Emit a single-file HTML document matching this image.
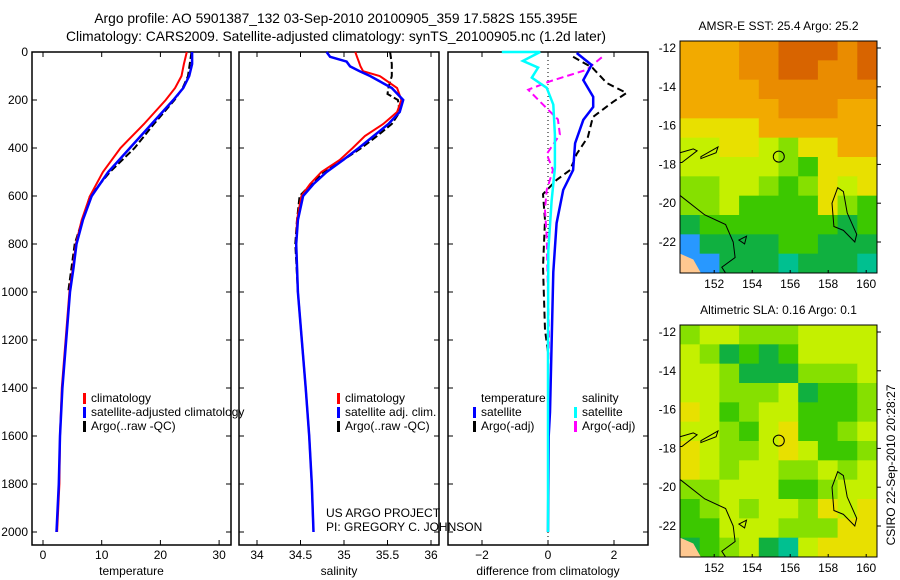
<!DOCTYPE html>
<html><head><meta charset="utf-8"><style>
body{margin:0;background:#fff;}
svg{display:block;font-family:"Liberation Sans",sans-serif;font-size:12px;}
</style></head><body>
<svg id="c" width="900" height="580" viewBox="0 0 900 580">
<text x="336" y="23" text-anchor="middle" font-size="13.8">Argo profile: AO 5901387_132 03-Sep-2010 20100905_359 17.582S 155.395E</text>
<text x="336" y="41" text-anchor="middle" font-size="13.8">Climatology: CARS2009. Satellite-adjusted climatology: synTS_20100905.nc (1.2d later)</text>
<g id="plots"></g>
<text transform="translate(895,465) rotate(-90)" text-anchor="middle" font-size="12">CSIRO 22-Sep-2010 20:28:27</text>
</svg>
<script>
// ---- data ----
const tDepth=[0,50,100,150,200,300,400,500,600,700,800,900,1000,1400,1600,1800,2000];
const tClim=[24.5,24.0,23.6,22.5,20.9,17.2,13.2,10.2,8.0,6.6,5.6,5.1,4.5,3.2,2.9,2.8,2.4];
const tSat=[25.4,25.4,24.9,23.9,22.2,18.5,14.8,11.1,8.3,6.8,5.7,5.2,4.6,3.3,2.9,2.7,2.3];
const tArgoDepth=[0,100,150,200,300,400,500,600,800,1000];
const tArgo=[25.3,24.7,23.8,22.4,18.9,15.6,11.4,8.0,5.4,4.3];
const sDepth=[0,20,40,60,80,100,150,200,250,300,350,400,450,500,550,600,700,800,1000,1400,1600,1800,2000];
const sClim=[35.13,35.15,35.17,35.19,35.22,35.41,35.61,35.66,35.61,35.45,35.24,35.10,34.95,34.74,34.61,34.51,34.46,34.45,34.47,34.56,34.60,34.63,34.65];
const sSat=[34.80,34.84,35.03,35.07,35.18,35.30,35.55,35.68,35.64,35.51,35.34,35.17,34.99,34.80,34.65,34.53,34.47,34.45,34.47,34.56,34.60,34.63,34.65];
const sArgoDepth=[0,50,100,150,175,200,250,300,350,400,450,500,600,700,800,1000];
const sArgo=[35.53,35.55,35.55,35.51,35.50,35.62,35.64,35.55,35.38,35.20,34.99,34.76,34.49,34.46,34.44,34.47];
const dTSatDepth=[4,54,117,187,229,283,380,492,575,713,917,1500,1600,2000];
const dTSat=[0.87,1.32,1.07,1.37,1.37,1.07,0.82,0.76,0.46,0.26,0.16,0.06,0.02,0.0];
const dTArgoDepth=[20,66,129,171,208,271,354,425,492,533,592,700,896,1158,1250];
const dTArgo=[0.76,1.35,1.78,2.38,1.97,1.36,1.21,0.87,0.67,0.26,-0.15,-0.09,-0.15,-0.09,0.0];
const dSSatDepth=[0,0,37,65,107,149,219,344,483,621,829,1200,2000];
const dSSat=[-1.40,-0.24,-0.76,-0.30,-0.49,-0.04,0.16,0.21,0.21,0.11,0.01,0.0,0.0];
const dSArgoDepth=[22,74,122,157,219,281,344,425,492,575,658,769,1187,1350];
const dSArgo=[1.63,1.17,0.06,-0.60,-0.15,0.30,0.36,-0.04,0.15,-0.04,-0.09,-0.04,0.03,0.0];
const depthTicks=[0,200,400,600,800,1000,1200,1400,1600,1800,2000];
const tTicks=[0,10,20,30];
const sTicks=[34,34.5,35,35.5,36];
const dTicks=[-2,0,2];
const latTicks=[12,14,16,18,20,22];
const lonTicks=[152,154,156,158,160];
const sstGrid=["aaaOOoooOo","aaaOOooOOo","aaaaOOOOOO","aaaaaOOOaa","yyyyaaaaaa","llyylgyyaa","lllllgGyyy","ggllgGgyly","gglGGGGygG","dGGGGGGGdG","bddddGGddd","bbdddtdddt"];
const slaGrid=["gllgggllll","lgdGdGllll","llgdddgggl","llgggldGGg","ylGgllGGGg","llgGlyGGgl","ylgglylGGg","ylgllgglgl","gglllGGgll","Gglgllgyly","GGlllgggyy","dGgldtlyyy"];
const pal={o:"#d86400",O:"#ea8c00",a:"#f2aa00",y:"#e8e000",l:"#c4f000",g:"#86e000",G:"#3cc800",d:"#10b040",t:"#00c090",b:"#2898ff"};
// ---- scales ----
const NS="http://www.w3.org/2000/svg";
const root=document.getElementById('plots');
function el(tag,attrs,parent){const e=document.createElementNS(NS,tag);for(const k in attrs)e.setAttribute(k,attrs[k]);(parent||root).appendChild(e);return e;}
const top0=52, bot=545, yD=d=>top0+d*0.24;
const panels=[
 {x0:32,x1:231,sx:v=>43+v*5.87,ticks:tTicks,label:"temperature",name:"temperature-panel"},
 {x0:239,x1:439,sx:v=>257+(v-34)*87,ticks:sTicks,label:"salinity",name:"salinity-panel"},
 {x0:448,x1:648,sx:v=>548+v*33,ticks:dTicks,label:"difference from climatology",name:"difference-panel"}];
panels.forEach((p,i)=>{
 const g=el('g',{});
 
 
 const r=el('rect',{x:p.x0,y:top0,width:p.x1-p.x0,height:bot-top0,fill:'none',stroke:'#000','stroke-width':1.5},g);
 
 
 depthTicks.forEach(d=>{
  el('line',{x1:p.x0,x2:p.x0+5,y1:yD(d),y2:yD(d),stroke:'#000'},g);
  el('line',{x1:p.x1-5,x2:p.x1,y1:yD(d),y2:yD(d),stroke:'#000'},g);
  if(i==0){const t=el('text',{x:28,y:yD(d)+4,'text-anchor':'end'},g);t.textContent=d;
   
   }
 });
 p.ticks.forEach(v=>{
  el('line',{x1:p.sx(v),x2:p.sx(v),y1:bot,y2:bot-5,stroke:'#000'},g);
  el('line',{x1:p.sx(v),x2:p.sx(v),y1:top0,y2:top0+5,stroke:'#000'},g);
  const t=el('text',{x:p.sx(v),y:559,'text-anchor':'middle'},g);t.textContent=(i==2&&v<0)?"\u2212"+(-v):v;
  
  
 });
 const xl=el('text',{x:(p.x0+p.x1)/2,y:575,'text-anchor':'middle'},g);xl.textContent=p.label;
 
 
});
function line(xs,ds,sx,color,dash,name,w){
 const pts=xs.map((v,k)=>sx(v).toFixed(1)+","+yD(ds[k]).toFixed(1)).join(" ");
 const l=el('polyline',{points:pts,fill:'none',stroke:color,'stroke-width':w||2,'stroke-dasharray':dash||'none'});
 
 
}
const P=panels;
line(tArgo,tArgoDepth,P[0].sx,'#000','7,3','temp-argo-line',2);
line(tClim,tDepth,P[0].sx,'#f00',null,'temp-climatology-line',2);
line(tSat,tDepth,P[0].sx,'#00f',null,'temp-satellite-line',2.5);
line(sArgo,sArgoDepth,P[1].sx,'#000','7,3','sal-argo-line',2);
line(sClim,sDepth,P[1].sx,'#f00',null,'sal-climatology-line',2);
line(sSat,sDepth,P[1].sx,'#00f',null,'sal-satellite-line',2.5);
el('line',{x1:548,x2:548,y1:top0,y2:bot,stroke:'#000','stroke-dasharray':'1,3'});
line(dTArgo,dTArgoDepth,P[2].sx,'#000','7,4','dtemp-argo-line',2);
line(dSArgo,dSArgoDepth,P[2].sx,'#f0f','7,4','dsal-argo-line',2);
line(dTSat,dTSatDepth,P[2].sx,'#00f',null,'dtemp-satellite-line',2.5);
line(dSSat,dSSatDepth,P[2].sx,'#0ff',null,'dsal-satellite-line',2.5);
// legends
function leg(x,y,color,txt){
 if(color){const m=el('rect',{x:x,y:y-9,width:3,height:11,fill:color});
  
  }
 const t=el('text',{x:x+8,y:y});t.textContent=txt;
 
 
}
leg(83,402,'#f00','climatology');leg(83,416,'#00f','satellite-adjusted climatology');leg(83,430,'#000','Argo(..raw -QC)');
leg(337,402,'#f00','climatology');leg(337,416,'#00f','satellite adj. clim.');leg(337,430,'#000','Argo(..raw -QC)');
leg(473,402,null,'temperature');leg(473,416,'#00f','satellite');leg(473,430,'#000','Argo(-adj)');
leg(574,402,null,'salinity');leg(574,416,'#0ff','satellite');leg(574,430,'#f0f','Argo(-adj)');
const pt1=el('text',{x:326,y:517});pt1.textContent='US ARGO PROJECT';


const pt2=el('text',{x:326,y:531});pt2.textContent='PI: GREGORY C. JOHNSON';


// maps
function map(y0,grid,title,name){
 const x0=680,w=197,h=232;
 const g=el('g',{});
 
 
 const rows=grid.length,cols=grid[0].length;
 grid.forEach((row,r)=>{[...row].forEach((c,k)=>{
  el('rect',{x:x0+k*w/cols,y:y0+r*h/rows,width:w/cols+0.5,height:h/rows+0.5,fill:pal[c]},g);
 });});
 const lx=lon=>x0+(lon-150.2)*19, ly=lat=>y0+7+(lat-12)*19.4;
 el('path',{d:`M${x0} ${ly(22.6)} L${lx(150.9)} ${ly(22.9)} L${lx(151.3)} ${ly(23.6)} L${x0} ${y0+h} Z`,fill:'#ffc890'},g);
 const cs=[`M${x0} ${ly(19.6)} L${lx(151.5)} ${ly(20.6)} L${lx(152.6)} ${ly(21.1)} L${lx(153)} ${ly(22)} L${lx(153.1)} ${ly(22.8)} L${lx(152.4)} ${ly(23.3)} L${lx(152.6)} ${ly(23.6)}`,
  `M${lx(158.2)} ${ly(20)} L${lx(158.5)} ${ly(19.2)} L${lx(158.8)} ${ly(19.4)} L${lx(159)} ${ly(20.5)} L${lx(159.5)} ${ly(21.6)} L${lx(159.4)} ${ly(22)} L${lx(158.8)} ${ly(21.4)} L${lx(158.3)} ${ly(21.2)} Z`,
  `M${x0} ${ly(17.4)} L${lx(150.9)} ${ly(17.2)} L${lx(151.1)} ${ly(17.3)} L${lx(150.3)} ${ly(17.9)} L${x0} ${ly(17.9)}`,
  `M${lx(151.3)} ${ly(17.6)} L${lx(152.2)} ${ly(17.1)} L${lx(152.1)} ${ly(17.4)} L${lx(151.3)} ${ly(17.7)} Z`,
  `M${lx(153.3)} ${ly(21.9)} L${lx(153.7)} ${ly(21.7)} L${lx(153.6)} ${ly(22.1)} Z`];
 cs.forEach(d=>el('path',{d:d,fill:'none',stroke:'#000','stroke-width':1},g));
 el('circle',{cx:lx(155.4),cy:ly(17.6),r:5.5,fill:'none',stroke:'#000'},g);
 el('rect',{x:x0,y:y0,width:w,height:h,fill:'none',stroke:'#000'},g);
 latTicks.forEach(l=>{
  el('line',{x1:x0+w,x2:x0+w+4,y1:ly(l),y2:ly(l),stroke:'#000'},g);
  const t=el('text',{x:676,y:ly(l)+4,'text-anchor':'end'},g);t.textContent='-'+l;
  
  
 });
 lonTicks.forEach(l=>{
  el('line',{x1:lx(l),x2:lx(l),y1:y0+h,y2:y0+h-3,stroke:'#000'},g);
  const t=el('text',{x:lx(l),y:y0+h+15,'text-anchor':'middle'},g);t.textContent=l;
  
  
 });
 const tt=el('text',{x:x0+w/2,y:y0-11,'text-anchor':'middle'},g);tt.textContent=title;
 
 
}
map(41,sstGrid,'AMSR-E SST: 25.4 Argo: 25.2','sst-map');
map(325,slaGrid,'Altimetric SLA: 0.16 Argo: 0.1','sla-map');
</script>
</body></html>
